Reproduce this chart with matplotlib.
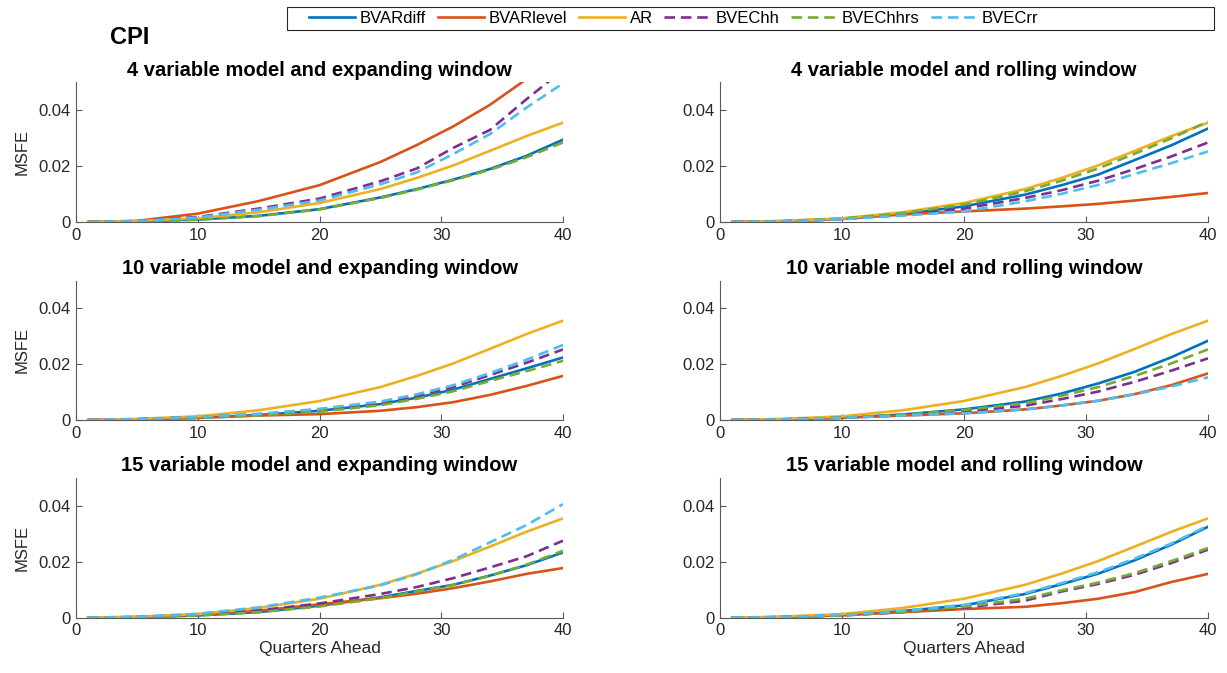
import matplotlib
matplotlib.use("Agg")
import matplotlib.pyplot as plt
from matplotlib.patches import Rectangle

plt.rcParams['font.family'] = ['Liberation Sans', 'DejaVu Sans']

quarters = [1, 5, 10, 15, 20, 25, 28, 31, 34, 37, 40]

panel_titles = [
    "4 variable model and expanding window", "4 variable model and rolling window",
    "10 variable model and expanding window", "10 variable model and rolling window",
    "15 variable model and expanding window", "15 variable model and rolling window",
]

series_names = ["BVARdiff", "BVARlevel", "AR", "BVEChh", "BVEChhrs", "BVECrr"]

ar = [0.0000, 0.0004, 0.0013, 0.0035, 0.0068, 0.0118, 0.0158, 0.0203, 0.0255, 0.0308, 0.0356]

bvardiff = [
    [0, 0.0002, 0.0009, 0.0022, 0.0046, 0.0088, 0.0118, 0.0152, 0.0190, 0.0237, 0.0295],
    [0, 0.0002, 0.0011, 0.0029, 0.0056, 0.0098, 0.0132, 0.0170, 0.0222, 0.0275, 0.0335],
    [0, 0.0002, 0.0008, 0.0018, 0.0033, 0.0057, 0.0080, 0.0109, 0.0147, 0.0185, 0.0224],
    [0, 0.0002, 0.0008, 0.0020, 0.0038, 0.0066, 0.0095, 0.0131, 0.0173, 0.0225, 0.0284],
    [0, 0.0002, 0.0008, 0.0020, 0.0043, 0.0073, 0.0096, 0.0118, 0.0151, 0.0188, 0.0234],
    [0, 0.0002, 0.0009, 0.0024, 0.0044, 0.0085, 0.0120, 0.0158, 0.0206, 0.0262, 0.0326],
]
bvarlevel = [
    [0, 0.0004, 0.0030, 0.0075, 0.0132, 0.0215, 0.0276, 0.0343, 0.0420, 0.0512, 0.0620],
    [0, 0.0003, 0.0012, 0.0027, 0.0038, 0.0048, 0.0056, 0.0065, 0.0077, 0.0090, 0.0104],
    [0, 0.0002, 0.0008, 0.0016, 0.0021, 0.0033, 0.0046, 0.0064, 0.0090, 0.0122, 0.0158],
    [0, 0.0002, 0.0008, 0.0016, 0.0024, 0.0038, 0.0052, 0.0069, 0.0093, 0.0125, 0.0167],
    [0, 0.0002, 0.0010, 0.0025, 0.0048, 0.0070, 0.0086, 0.0106, 0.0130, 0.0157, 0.0178],
    [0, 0.0002, 0.0009, 0.0020, 0.0031, 0.0039, 0.0052, 0.0068, 0.0092, 0.0128, 0.0157],
]
bvechh = [
    [0, 0.0003, 0.0018, 0.0048, 0.0084, 0.0146, 0.0192, 0.0266, 0.0330, 0.0440, 0.0545],
    [0, 0.0002, 0.0010, 0.0026, 0.0048, 0.0086, 0.0114, 0.0148, 0.0190, 0.0235, 0.0285],
    [0, 0.0003, 0.0010, 0.0021, 0.0035, 0.0062, 0.0087, 0.0118, 0.0161, 0.0205, 0.0253],
    [0, 0.0002, 0.0008, 0.0017, 0.0030, 0.0051, 0.0075, 0.0102, 0.0137, 0.0177, 0.0221],
    [0, 0.0002, 0.0010, 0.0026, 0.0051, 0.0085, 0.0110, 0.0142, 0.0180, 0.0220, 0.0276],
    [0, 0.0002, 0.0008, 0.0020, 0.0036, 0.0061, 0.0094, 0.0121, 0.0154, 0.0196, 0.0244],
]
bvechhrs = [
    [0, 0.0002, 0.0008, 0.0021, 0.0045, 0.0086, 0.0116, 0.0150, 0.0187, 0.0232, 0.0285],
    [0, 0.0002, 0.0012, 0.0032, 0.0062, 0.0110, 0.0148, 0.0192, 0.0245, 0.0300, 0.0360],
    [0, 0.0002, 0.0007, 0.0016, 0.0030, 0.0053, 0.0076, 0.0103, 0.0140, 0.0175, 0.0212],
    [0, 0.0002, 0.0008, 0.0019, 0.0036, 0.0060, 0.0087, 0.0118, 0.0158, 0.0203, 0.0253],
    [0, 0.0002, 0.0008, 0.0020, 0.0040, 0.0070, 0.0094, 0.0117, 0.0150, 0.0190, 0.0240],
    [0, 0.0002, 0.0008, 0.0021, 0.0039, 0.0068, 0.0098, 0.0126, 0.0160, 0.0203, 0.0250],
]
bvecrr = [
    [0, 0.0003, 0.0016, 0.0044, 0.0077, 0.0135, 0.0178, 0.0244, 0.0315, 0.0410, 0.0497],
    [0, 0.0002, 0.0010, 0.0023, 0.0038, 0.0074, 0.0101, 0.0133, 0.0172, 0.0211, 0.0253],
    [0, 0.0003, 0.0011, 0.0022, 0.0040, 0.0066, 0.0092, 0.0125, 0.0168, 0.0216, 0.0269],
    [0, 0.0002, 0.0008, 0.0016, 0.0024, 0.0038, 0.0052, 0.0069, 0.0092, 0.0120, 0.0153],
    [0, 0.0003, 0.0014, 0.0037, 0.0072, 0.0116, 0.0156, 0.0208, 0.0270, 0.0332, 0.0407],
    [0, 0.0002, 0.0010, 0.0025, 0.0046, 0.0088, 0.0124, 0.0163, 0.0212, 0.0266, 0.0330],
]

colors = ["#0072BD", "#D95319", "#EDB120", "#7E2F8E", "#77AC30", "#4DBEEE"]
dashed = [False, False, False, True, True, True]

W, H = 1227, 673
fig = plt.figure(figsize=(W / 100, H / 100), dpi=100)

col_left = [76, 720]
col_width = [487, 488]
row_bottom = [222, 420, 617.7]
row_h = 139.5

axis_color = "#5a5a5a"
text_color = "#262626"
lw = 1.9
handles = []
for i in range(6):
    r, c = divmod(i, 2)
    ax = fig.add_axes([col_left[c] / W, 1 - row_bottom[r] / H, col_width[c] / W, row_h / H])
    data = [bvardiff[i], bvarlevel[i], ar, bvechh[i], bvechhrs[i], bvecrr[i]]
    hs = []
    for name, d, col, ds in zip(series_names, data, colors, dashed):
        if ds:
            h, = ax.plot(quarters, d, color=col, lw=lw, linestyle=(0, (4.0, 2.2)), label=name)
        else:
            h, = ax.plot(quarters, d, color=col, lw=lw, label=name)
        hs.append(h)
    if i == 0:
        handles = hs
    ax.set_xlim(0, 40)
    ax.set_ylim(0, 0.05)
    ax.set_xticks([0, 10, 20, 30, 40])
    ax.set_yticks([0, 0.02, 0.04])
    ax.set_yticklabels(["0", "0.02", "0.04"])
    for s in ["top", "right"]:
        ax.spines[s].set_visible(False)
    for s in ["left", "bottom"]:
        ax.spines[s].set_color(axis_color)
        ax.spines[s].set_linewidth(0.8)
    ax.tick_params(direction="in", length=4, width=0.8, color=axis_color,
                   labelsize=12, labelcolor=text_color, pad=4)
    ax.set_title(panel_titles[i], fontsize=14.5, fontweight="bold", pad=5)
    if c == 0:
        ax.set_ylabel("MSFE", fontsize=12, color=text_color, labelpad=6)
    if r == 2:
        ax.set_xlabel("Quarters Ahead", fontsize=12.5, color=text_color, labelpad=2)

fig.text(110 / W, 1 - 38 / H, "CPI", fontsize=17, fontweight="bold", ha="left", va="center")

frame = Rectangle((287 / W, 1 - 30 / H), (1214 - 287) / W, 23 / H, transform=fig.transFigure,
                  fill=False, edgecolor="#262626", linewidth=0.8)
fig.add_artist(frame)
leg = fig.legend(handles, series_names, loc="center left", bbox_to_anchor=(309 / W, 1 - 18.5 / H),
                 ncol=6, frameon=False, fontsize=12, handlelength=2.75,
                 columnspacing=0.7, handletextpad=0.3, borderpad=0.0, borderaxespad=0.0)

fig.savefig("out.png", dpi=100)
